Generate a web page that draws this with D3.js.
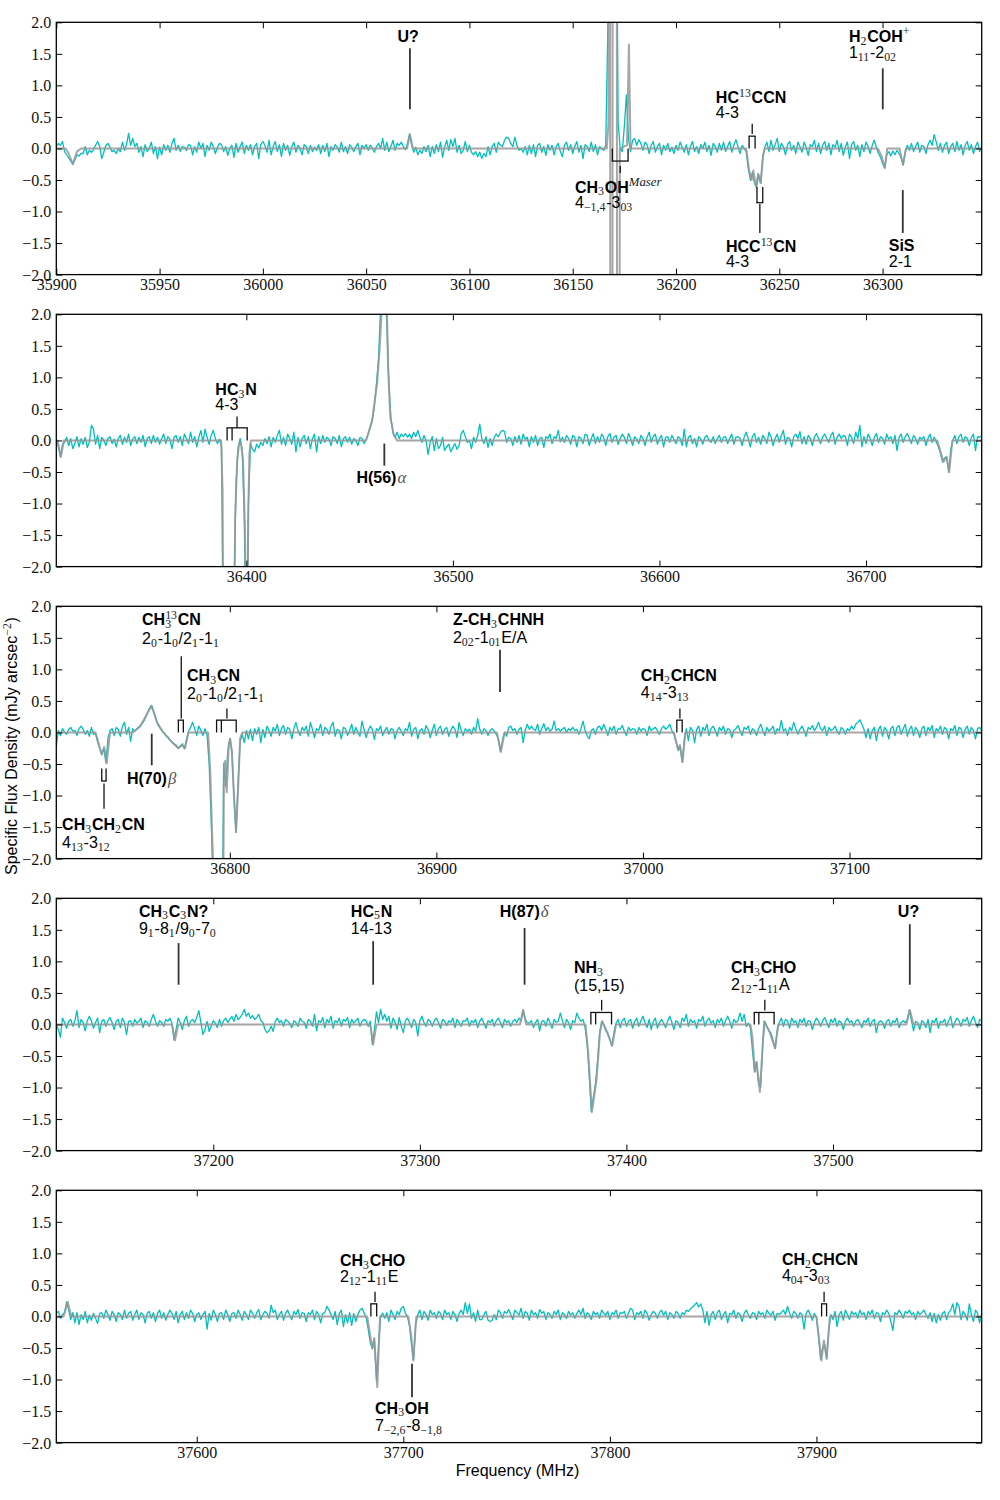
<!DOCTYPE html>
<html><head><meta charset="utf-8">
<script src="https://cdn.jsdelivr.net/npm/d3@7"></script>
<style>html,body{margin:0;padding:0;background:#fff}</style>
</head><body>
<script>
// ---------------- DATA ----------------
const panelStarts = [35900, 36308, 36716, 37124, 37532]; // MHz, left edge of each panel
const panelSpan = 448;    // MHz shown per panel
const channelStep = 1;    // MHz per channel
const yTicks = [-2, -1.5, -1, -0.5, 0, 0.5, 1, 1.5, 2];
const xTicks1 = [35900, 35950, 36000, 36050, 36100, 36150, 36200, 36250, 36300];
const xTicks2 = [36400, 36500, 36600, 36700];
const xTicks3 = [36800, 36900, 37000, 37100];
const xTicks4 = [37200, 37300, 37400, 37500];
const xTicks5 = [37600, 37700, 37800, 37900];

// observed spectrum (mJy arcsec^-2), one value per channel
const flux1 = [
.03,.08,.05,.11,-.05,-.1,-.15,-.2,-.25,-.18,
-.1,-.12,-.08,-.08,.03,-.1,-.03,-.06,-.02,.05,
.11,.03,-.16,-.06,.05,.08,.02,-.05,-.03,-.08,
.0,-.05,.1,-.03,.06,.24,.05,.16,.03,.08,
-.06,.03,-.13,.06,-.05,.0,.1,-.08,.03,-.16,
.02,-.1,.06,-.03,.05,-.06,.08,.16,-.03,.05,
-.05,.03,.02,-.03,.06,.05,-.1,.03,-.06,.1,
.0,.08,-.13,.05,-.03,.1,.03,-.08,.02,.08,
.06,-.05,.03,-.11,.0,.05,-.14,.08,-.06,.03,
.1,-.08,.05,-.03,.06,-.1,.03,.08,-.16,.06,
.11,.05,-.06,.13,-.1,.03,.11,-.05,.06,-.13,
.08,-.03,.05,-.11,.03,.1,-.06,.05,.0,-.1,
.06,.03,-.08,.05,-.05,.02,-.03,.06,-.08,.05,
-.05,.08,-.13,.03,-.03,.06,.02,-.06,.1,-.05,
.03,-.08,.06,.02,-.05,.03,.08,-.1,.05,.0,
.06,-.03,.05,.0,-.06,.03,.08,.0,.16,-.03,
.1,-.05,.03,.13,-.03,.08,.05,.1,.03,-.02,
.08,.23,.06,-.06,.02,-.1,-.03,-.08,.03,-.05,
.05,-.13,.03,-.08,.06,-.05,.1,-.14,.02,.13,
-.03,.14,.03,.16,-.06,.05,-.08,-.03,.11,-.05,
.05,-.06,-.1,-.05,-.13,-.06,-.16,-.08,-.13,.03,
-.1,.03,.08,-.06,.1,.05,.03,.13,.18,.16,
.08,.03,.18,.05,-.03,.0,-.06,.03,-.1,.05,
-.08,.06,-.13,.05,.08,-.06,.03,-.11,.06,-.03,
.05,-.1,.03,.08,-.05,-.13,.05,.1,-.03,.06,
-.08,.03,.11,-.06,.05,-.16,.06,.03,-.05,.1,
-.05,.06,-.1,.03,.0,-.03,.05,1.9,5,5,
5,5,.4,.0,-.05,.35,.85,.15,-.05,.13,
.16,.05,.14,.08,-.03,.1,.06,-.08,.05,.11,
-.06,.03,.08,-.1,.05,-.03,.08,-.05,.02,-.08,
.05,-.03,.1,.02,-.06,.06,-.1,.03,.11,-.05,
.03,-.08,.06,.0,.1,-.05,.05,-.11,.08,.03,
-.06,.08,-.03,.1,-.05,.03,.11,-.06,.05,.14,
.03,-.08,.05,.0,-.05,-.32,-.5,-.38,-.55,-.62,
-.42,-.55,-.15,.02,.1,-.05,.13,-.03,.06,.16,
-.05,.08,.03,-.1,.06,.11,-.03,.05,-.08,.1,
.03,-.06,.1,.02,-.11,.06,.03,.13,-.05,.08,
-.08,.05,.11,-.03,.08,-.1,.06,.02,.13,-.05,
.08,-.11,.03,.1,-.16,.06,.11,-.03,.05,-.13,
.06,-.05,.1,.03,-.08,.05,.13,.02,-.08,-.14,
-.24,-.31,-.1,-.05,-.12,-.04,-.1,-.03,-.08,-.15,
-.26,-.06,.05,-.03,.08,-.05,.03,.1,-.06,.05,
.03,-.08,.06,.13,.05,.22,.1,-.03,.08,-.06,
.05,.1,-.08,.03,.08,-.05,.11,-.03,.06,-.1,
.05,.11,-.03,.06,-.08,.03,.1,-.05,.03];

const flux2 = [
.0,-.1,-.26,-.06,-.03,.05,-.08,.03,-.13,-.05,
.06,-.1,.03,-.06,.05,-.11,-.03,.24,.18,-.06,
.08,-.13,.05,.0,-.08,.03,.06,-.05,.02,-.1,
.03,.08,-.06,.05,-.03,.1,-.08,.02,.06,-.05,
.05,-.03,.08,-.1,.03,.06,-.05,.08,-.03,.05,
-.06,.03,.1,-.05,.06,.02,-.13,.05,.08,-.03,
.06,-.08,.1,.03,-.05,.13,-.03,.06,-.1,.05,
.16,-.03,.18,.05,-.06,.08,.16,.03,-.05,.02,
-.1,-4,-4,-4,-4,-4,-2.4,-.7,-.12,.03,
-.15,-1.2,-4,-1.0,-.05,-.14,-.18,-.06,-.12,-.03,
-.08,.03,-.05,.06,-.1,.05,-.03,.08,.16,-.06,
.05,-.08,.1,.03,-.06,.13,-.18,.05,-.1,.03,
.08,-.05,.06,-.13,.03,.1,-.18,.06,-.05,.08,
-.03,.05,.02,-.08,.06,.03,-.05,.08,-.1,.03,
.06,-.03,.05,-.06,.03,.0,-.08,.05,.03,-.05,
.02,.1,.2,.32,.55,.9,1.3,2.1,2.6,2.3,
1.9,.9,.35,.12,.05,.13,.03,.1,.06,.11,
.05,.1,.03,.13,.06,.16,.05,-.03,.08,.0,
-.22,-.03,.06,-.16,.03,-.13,-.08,.05,-.16,-.1,
-.06,-.18,-.11,-.05,-.14,-.08,.1,.16,.06,-.03,
.0,-.13,.05,-.03,.08,.26,.03,-.05,.06,-.11,
.03,-.08,.05,.1,.06,.13,.16,.14,-.03,.05,
.03,-.08,.06,-.03,.08,-.06,.1,.02,.05,-.1,
.06,-.03,.08,-.08,.03,.05,-.11,.06,.03,.1,
-.05,.06,.03,.16,-.02,.05,-.03,.08,.03,-.06,
.08,.05,-.1,.06,.03,-.05,.1,.08,-.08,.03,
.11,-.05,.06,-.03,.1,.05,-.08,.06,.11,-.03,
.05,.08,-.06,.03,.1,.05,-.05,.11,.03,-.08,
.06,.02,-.05,.08,.03,-.08,.05,.13,-.03,.06,
.1,-.06,.03,.08,-.1,.05,.06,-.03,.08,.02,
-.05,.06,.03,-.08,.18,-.1,.05,.08,-.05,.03,
-.1,.06,.02,-.06,.05,.08,.0,-.03,.06,-.05,
.03,.08,-.03,.05,.06,-.05,.03,.1,-.06,.05,
.06,.03,-.08,.05,.13,.03,-.1,.06,.11,-.03,
.05,-.06,.08,.03,-.05,.13,.06,-.08,.03,.1,
-.03,.08,.16,-.06,.05,.03,-.1,.06,.1,.03,
.14,-.05,.06,-.06,.08,.03,-.08,.05,.11,.03,
-.05,.06,.1,.03,-.03,.08,.13,-.06,.05,.1,
.03,.08,.06,-.08,.1,.05,-.05,.13,.03,.24,
-.1,.06,-.05,.1,.03,-.08,.05,.11,-.03,.06,
.03,-.06,.1,.02,.06,-.05,.08,-.16,.05,.1,
-.03,.06,.11,.03,-.05,.08,.03,-.06,.05,.02,
.06,-.08,.03,.1,-.03,.05,-.02,-.1,-.2,-.34,
-.28,-.26,-.5,-.15,.0,.08,-.05,.06,.1,-.03,
.06,.03,-.08,.05,.1,-.16,.06,.05,.08];

const flux3 = [
-.22,.03,-.05,.06,.0,-.03,.05,.08,.02,.03,
-.05,.06,.1,.05,-.03,.03,-.06,.08,-.03,-.02,
-.15,-.25,-.35,-.25,-.48,-.1,.03,.06,-.05,.08,
.05,-.06,.1,.16,-.03,.08,-.14,.06,.02,.06,
.09,.12,.16,.22,.3,.38,.43,.35,.25,.14,
.08,.03,.0,-.05,-.07,-.12,-.15,-.18,-.2,-.25,
-.22,-.18,-.26,-.12,.02,.08,.16,.06,-.05,.1,
.03,-.05,.06,-.05,-.5,-1.4,-2.5,-5,-5,-5,
-5,-.5,-.85,-.3,-.1,-.3,-1.0,-1.58,-.8,-.15,
-.03,-.16,.03,-.1,.05,-.13,.06,-.03,.08,-.16,
.05,-.08,.1,.03,-.06,.08,.02,.13,-.05,.06,
.11,-.03,.08,.05,-.1,.06,.16,.03,-.05,.08,
.03,.1,-.06,.16,.05,-.08,.06,.03,.13,-.05,
.08,.05,-.03,.1,.16,-.06,.05,.03,-.1,.08,
.06,-.05,.03,.13,-.03,.08,.0,-.06,.18,.05,
-.08,.03,.1,.05,-.11,.06,.03,.1,-.05,.03,
.08,-.03,.06,.05,-.1,.03,.08,.02,-.05,.06,
.03,.16,-.06,.05,.08,-.1,.03,.06,-.03,.11,
.05,-.08,.03,.13,-.05,.06,.1,-.03,.05,.08,
-.06,.03,.1,.05,-.08,.16,.03,-.05,.06,.02,
.05,-.03,.08,.02,.22,.05,-.03,.06,.03,-.05,
.03,.06,.02,-.03,-.1,-.3,-.12,.0,-.06,.08,
.1,.03,.06,-.03,.05,.08,-.16,.03,.13,.05,
.1,.05,.03,.13,-.03,.06,.14,.03,.08,.02,
.05,.18,.03,.06,.02,.05,.08,.0,.06,.03,
.08,.03,.05,-.03,.06,.18,.03,-.05,-.1,.03,
.06,-.03,.08,.1,.03,.13,.05,-.05,.08,.03,
.1,-.03,.06,.05,.11,.02,-.05,.08,.03,.06,
.05,-.03,.08,.02,.06,.05,-.05,.1,.03,.06,
.08,.03,-.03,.06,.1,.05,.08,.13,.03,-.03,
-.15,-.28,-.22,-.47,-.12,.06,-.13,.08,.03,-.16,
.05,.1,-.06,.08,.03,.13,-.05,.06,.1,.03,
-.06,.08,.03,.1,-.03,.06,.05,-.08,.03,.06,
.11,.03,-.05,.08,.05,.1,-.03,.06,.03,-.05,
.06,.13,.03,-.05,.08,.02,.05,.1,-.03,.06,
.03,.19,.02,.06,-.05,.08,.03,.16,.06,-.03,
.05,.1,.03,-.06,.08,.05,.11,.03,.08,.16,
.06,.03,.1,-.05,.08,.03,.05,.1,.02,-.03,
.08,.05,-.03,.06,.03,.1,.05,.13,.16,.2,
.13,.05,-.08,.06,-.1,.03,.08,-.13,.05,.1,
-.06,.08,.03,-.1,.06,.1,-.05,.08,.11,-.03,
.06,.13,-.06,.05,.1,-.05,.08,.03,-.08,.06,
.1,-.05,.08,.03,.11,-.08,.06,.02,.1,-.03,
.08,.05,-.1,.06,.03,.11,-.05,.08,.06,-.08,
.05,.1,-.03,.08,.03,-.1,.06,.08,.03];

const flux4 = [
.0,-.08,-.2,.1,.03,-.06,.05,.08,-.03,.06,
.22,-.05,.08,.03,-.1,.06,.13,.05,-.06,.03,
.1,-.13,.05,.08,-.03,.06,.11,.03,-.08,.05,
.08,-.05,.1,.03,-.16,.05,.06,-.03,.08,.02,
.05,.1,-.05,.06,.03,-.03,.08,.16,.05,-.03,
.06,.03,-.03,.08,.05,.1,.02,-.25,-.08,.1,
.03,-.08,.06,.13,-.03,.05,.08,.03,.11,.22,
.03,-.16,-.08,.05,-.11,-.03,.06,.02,-.05,.08,
-.03,.06,.1,.03,.08,.13,.05,.16,.08,.11,
.16,.24,.13,.18,.1,.14,.08,.11,.16,.06,
.03,-.08,-.13,-.1,-.03,-.11,.05,.1,.03,.06,
-.03,.08,.05,.02,-.05,.06,.03,-.03,.1,.05,
.03,-.06,.08,.05,-.03,.16,-.1,.06,.03,.11,
-.05,.08,.03,.13,-.06,.06,.03,.1,-.03,.08,
.05,.11,-.05,.08,.02,.06,.1,-.03,.05,.08,
.06,-.03,.05,-.32,-.08,.2,.03,.24,.08,.16,
.05,.13,-.06,.1,.03,-.08,.11,-.03,-.13,.06,
.1,.03,-.05,.08,.03,-.18,.06,.13,.03,-.03,
.08,.05,-.03,.06,.1,.03,-.06,.08,.05,-.02,
.06,.03,.1,-.05,.08,.03,-.03,.06,.05,.1,
-.03,.06,.03,.08,-.05,.05,.1,.02,-.06,.06,
.03,.08,-.03,.06,.1,.03,-.05,.08,.03,.06,
-.03,.05,.08,.03,.1,.06,.23,.08,.03,.02,
.06,-.05,.03,.08,-.1,.05,.06,-.03,.1,.03,
-.06,.08,.03,.05,.18,.06,-.05,.08,.03,-.08,
.06,.03,.18,.1,.05,.08,-.05,-.3,-.8,-1.38,
-1.15,-.95,-.6,-.15,.05,.0,-.1,-.14,-.24,-.34,
-.12,.02,.08,-.05,.06,.1,-.03,.05,.08,-.06,
.05,.1,-.03,.06,.13,.03,-.05,.08,-.08,.05,
.1,-.06,.03,.08,.02,-.05,.06,.13,.03,-.08,
.06,.03,-.05,.1,.05,.16,-.03,.08,.03,.06,
-.06,.08,.05,.13,-.03,.06,.1,.02,.06,-.05,
.08,.03,.1,-.03,.06,.13,.05,-.06,.08,.03,
.06,.18,.05,.16,-.03,.02,-.05,-.4,-.75,-.6,
-.95,-1.0,-.3,.05,-.04,-.1,-.14,-.25,-.38,-.1,
.03,.1,-.03,.08,.05,-.06,.1,.03,.06,-.05,
.08,.03,.1,-.03,.06,.05,-.08,.03,.1,.05,
-.03,.06,.11,.03,-.05,.08,.03,.1,-.03,.06,
.03,-.08,.05,.1,.03,.06,-.03,.05,.08,.02,
-.05,.06,.03,.1,-.03,.05,.08,-.13,.03,.06,
.03,-.06,.05,.08,-.03,.06,.03,.1,-.05,.03,
.06,.03,.08,.23,.06,-.1,.05,.03,-.08,.06,
.03,-.05,.08,-.13,.06,.03,.1,-.06,.05,.03,
.08,-.03,.06,.13,-.05,.03,.1,.06,-.03,.08,
.05,.11,-.03,.06,.13,.03,-.05,.08,.06];

const flux5 = [
.05,.08,-.03,.03,.06,.23,.1,-.05,.06,-.1,
.06,-.13,.03,-.05,.08,-.1,.02,-.06,.05,-.03,
-.11,.05,.06,-.03,.1,.03,-.06,.08,.03,-.08,
.06,.03,-.05,.1,-.03,.05,.08,-.06,.03,.1,
-.05,.06,.03,-.1,.05,.08,-.03,.06,-.08,.05,
.1,-.03,.06,-.06,.03,.1,.05,-.05,.08,-.1,
.03,.08,-.05,.06,-.03,.1,.05,-.08,.03,.06,
-.05,.03,.08,-.2,.05,-.06,.1,.03,-.08,.05,
.06,-.05,.1,.03,-.08,.05,.06,-.03,.1,.03,
-.06,.08,.03,-.05,.1,.05,-.03,.06,.11,-.05,
.03,.08,.05,-.03,.18,.06,.1,-.05,.03,.08,
-.06,.05,.1,.02,-.05,.08,.03,.11,-.03,.06,
.05,-.08,.06,.03,.1,-.05,.08,.03,-.1,.05,
.06,.16,.1,.03,-.05,.08,-.13,.05,.1,-.16,
.03,-.1,.06,-.14,.05,-.08,.03,.1,.13,.06,
-.02,-.2,-.42,-.5,-.36,-1.02,-.45,.0,.05,-.03,
.06,-.08,.1,.03,-.05,.08,.03,.13,.16,.05,
.0,-.15,-.45,-.68,-.12,.03,.1,-.05,.08,.03,
-.06,.1,.03,.06,-.03,.08,.05,-.05,.1,.03,
.06,-.05,.08,.03,-.08,.05,.1,.03,.22,.05,
.2,-.03,.06,-.08,.1,-.05,-.05,.03,.08,-.06,
-.08,-.06,.03,-.05,.1,.06,-.03,.08,.05,.11,
.03,-.05,.1,.06,.02,.13,-.03,.08,.05,-.06,
.1,.03,.06,-.03,.11,.05,.08,-.05,.06,.03,
-.03,.08,.03,.1,-.05,.06,.03,-.03,.08,.02,
.06,-.03,.05,.1,.03,.13,-.03,.06,.03,-.05,
.08,.03,.06,-.03,.1,.05,.02,.08,-.05,.06,
.03,.1,-.03,.06,.05,.08,-.03,.05,.13,.1,
-.05,.06,.03,.08,-.03,.1,.05,-.06,.03,.08,
.05,-.03,.06,.1,.02,.08,-.05,.06,.03,-.03,
.08,.05,-.03,.06,.03,.1,.08,.12,.15,.18,
.22,.15,.2,.1,-.1,.08,-.14,.03,.08,-.05,
.06,.1,-.05,.03,.08,-.1,.05,.03,.1,-.03,
.06,.03,-.08,.05,.1,.03,-.03,.06,.05,-.05,
.08,.03,.06,-.03,.1,.05,.02,.08,-.06,.05,
.03,.06,.1,.03,.16,.05,-.03,.08,.05,-.03,
.06,.03,-.2,.05,.1,.03,-.06,.05,-.02,-.3,
-.68,-.5,-.45,-.67,-.2,.03,-.05,.08,-.16,.03,
.08,-.06,.1,.03,-.05,.08,.03,.06,-.03,.1,
.03,.06,-.05,.08,.03,.1,-.03,.06,.05,-.08,
.06,.03,.1,.05,-.08,-.22,.06,.03,.1,.05,
-.03,.08,.05,.1,.03,.06,-.05,.08,.03,.06,
.1,.03,-.03,.06,-.08,.05,-.1,.03,-.06,.05,
.08,-.05,.06,.1,.2,.03,.22,.16,-.05,.08,
.03,-.06,.2,.03,-.08,.1,.05,-.1,.05];

// model spectrum: [frequency MHz, flux]
const model1 = [[35900,0],[35904.5,0],[35906,-0.08],[35908,-0.25],[35910,-0.05],[35912,0],
 [36069.8,0],[36071.2,0.22],[36072.6,0],
 [36166.5,0],[36167.3,0.4],[36167.9,15],[36168.4,-15],[36169.1,-15],[36169.5,15],[36171.2,15],[36171.6,-15],[36172.3,-15],[36172.8,0],[36176.3,0.05],[36177.2,1.65],[36178,0],
 [36234,0],[36235.4,-0.35],[36236.6,-0.5],[36237.4,-0.35],[36238.7,-0.6],[36239.8,-0.4],[36241,-0.55],[36242.2,-0.1],[36243,0],
 [36297.7,0],[36299.5,-0.12],[36301.1,-0.31],[36302.3,0],
 [36308.2,0],[36309.9,-0.26],[36311.3,0],[36348,0]];
const model2 = [[36308,0],[36308.6,0],[36310.2,-0.26],[36311.7,0],
 [36387.8,0],[36388.5,-0.8],[36389.2,-5],[36393.6,-5],[36394.6,-1.2],[36395.6,-0.3],[36396.5,-0.05],[36397.3,-0.03],[36398.4,-0.3],[36399.4,-1.5],[36400.2,-5],[36400.9,-1.2],[36401.5,-0.2],[36402.2,0],
 [36458,0],[36460.9,0.32],[36463.3,0.9],[36464.5,1.43],[36465.4,2.0],[36466.8,2.5],[36468.1,2.0],[36468.6,1.17],[36469.7,0.37],[36471.3,0.1],[36473,0],
 [36734.5,0],[36737.5,-0.34],[36739,-0.26],[36740.3,-0.5],[36741.8,0],[36756,0]];
const model3 = [[36716,0],[36735,0],[36738,-0.35],[36739.2,-0.23],[36740.4,-0.49],[36742,0],
 [36753,0],[36756.5,0.09],[36760.5,0.33],[36762.2,0.42],[36764.6,0.17],[36767.8,0],[36771.9,-0.15],[36775.1,-0.25],[36776.7,-0.2],[36778.3,-0.25],[36780,0],
 [36789.5,0],[36790.5,-0.6],[36792,-2.2],[36792.5,-5],[36796.4,-5],[36797.2,-0.5],[36797.8,-0.45],[36798.5,-0.95],[36799.5,-0.2],[36800.2,-0.1],[36801,-0.3],[36802,-1.0],[36803,-1.58],[36804,-0.9],[36805,-0.1],[36806,0],
 [36929.3,0],[36931.2,-0.31],[36933,0],
 [37015,0],[37017.1,-0.28],[37017.9,-0.2],[37019.2,-0.47],[37020.5,0],[37164,0]];
const model4 = [[37124,0],[37180,0],[37181.5,-0.25],[37183,0],
 [37276,0],[37277.4,-0.32],[37279,0],
 [37348.5,0],[37350,0.23],[37351.5,0],
 [37380.2,0],[37381.5,-0.45],[37383.3,-1.39],[37385.6,-0.86],[37387.2,-0.12],[37388.3,0.05],[37390.4,-0.1],[37393.1,-0.34],[37395,0],
 [37460,0],[37461,-0.2],[37462.2,-0.75],[37463,-0.59],[37464.6,-1.07],[37466.7,0.05],[37469.1,-0.1],[37472,-0.38],[37473.5,0],
 [37535.5,0],[37537.2,0.23],[37539,0],[37572,0]];
const model5 = [[37532,0],[37535.5,0],[37537.5,0.23],[37539.3,0],
 [37682.5,0],[37685,-0.51],[37685.9,-0.34],[37687.4,-1.12],[37688.7,0],
 [37702.4,0],[37703.8,-0.3],[37704.8,-0.7],[37706.3,0],
 [37900,0],[37902.4,-0.7],[37903.6,-0.38],[37904.9,-0.67],[37906.5,0],[37980,0]];

// line identifications (frequency / flux coordinates)
const notes1 = [
 {stick:[36071.2,1.59,0.62], label:{f:36065.2,v:[1.68],lines:["U?"]}},
 {bracket:{ticks:[36169.2,36176.8],from:0,bar:-0.2,stub:[36173,-0.28,-0.39]}, label:{f:36151.1,v:[-0.7,-0.95],lines:["CH_{3}OH^i{Maser}","4_{−1,4}-3_{03}"]}},
 {bracket:{ticks:[36235.4,36238.3],from:0,bar:0.195,stub:[36236.9,0.23,0.39]}, label:{f:36219.3,v:[0.72,0.48],lines:["HC^{13}CCN","4-3"]}},
 {bracket:{ticks:[36239.2,36242],from:-0.61,bar:-0.86,stub:[36240.6,-0.88,-1.34]}, label:{f:36224.2,v:[-1.64,-1.88],lines:["HCC^{13}CN","4-3"]}},
 {stick:[36300.1,1.27,0.62], label:{f:36283.7,v:[1.69,1.44],lines:["H_{2}COH^{+}","1_{11}-2_{02}"]}},
 {stick:[36309.8,-0.66,-1.34], label:{f:36303,v:[-1.62,-1.88],lines:["SiS","2-1"]}}
];
const notes2 = [
 {bracket:{ticks:[36390.7,36393.1,36400.4],from:0,bar:0.2,stub:[36395.5,0.2,0.38]}, label:{f:36385,v:[0.72,0.48],lines:["HC_{3}N","4-3"]}},
 {stick:[36466.8,-0.05,-0.4], label:{f:36453.3,v:[-0.67],lines:["H(56)~{α}"]}}
];
const notes3 = [
 {bracket:{ticks:[36738,36740.1],from:-0.57,bar:-0.77,stub:[36739.1,-0.81,-1.21]}, label:{f:36718.8,v:[-1.55,-1.83],lines:["CH_{3}CH_{2}CN","4_{13}-3_{12}"]}},
 {stick:[36762.2,-0.02,-0.52], label:{f:36750.2,v:[-0.82],lines:["H(70)~{β}"]}},
 {bracket:{ticks:[36775.1,36777.5],from:0,bar:0.195,stub:[36776.5,0.22,1.21]}, label:{f:36757.5,v:[1.70,1.40],lines:["CH%{13|3}CN","2_{0}-1_{0}/2_{1}-1_{1}"]}},
 {bracket:{ticks:[36793.6,36795.9,36803.1],from:0,bar:0.195,stub:[36798.6,0.22,0.38]}, label:{f:36779.3,v:[0.81,0.53],lines:["CH_{3}CN","2_{0}-1_{0}/2_{1}-1_{1}"]}},
 {stick:[36930.8,1.31,0.64], label:{f:36908,v:[1.70,1.42],lines:["Z-CH_{3}CHNH","2_{02}-1_{01}E/A"]}},
 {bracket:{ticks:[37016.4,37019],from:0,bar:0.195,stub:[37017.9,0.22,0.38]}, label:{f:36999,v:[0.81,0.54],lines:["CH_{2}CHCN","4_{14}-3_{13}"]}}
];
const notes4 = [
 {stick:[37183.2,1.29,0.63], label:{f:37164,v:[1.71,1.44],lines:["CH_{3}C_{3}N?","9_{1}-8_{1}/9_{0}-7_{0}"]}},
 {stick:[37277.4,1.32,0.63], label:{f:37266.6,v:[1.71,1.44],lines:["HC_{5}N","14-13"]}},
 {stick:[37350.7,1.53,0.63], label:{f:37338.7,v:[1.71],lines:["H(87)~{δ}"]}},
 {bracket:{ticks:[37382.8,37385.1,37392.8],from:0,bar:0.19,stub:[37388,0.22,0.39]}, label:{f:37374.6,v:[0.81,0.53],lines:["NH_{3}","(15,15)"]}},
 {bracket:{ticks:[37461.9,37464.1,37471.5],from:0,bar:0.19,stub:[37467,0.22,0.39]}, label:{f:37450.6,v:[0.81,0.54],lines:["CH_{3}CHO","2_{12}-1_{11}A"]}},
 {stick:[37537.2,1.59,0.63], label:{f:37531.4,v:[1.70],lines:["U?"]}}
];
const notes5 = [
 {bracket:{ticks:[37684.3,37687.1],from:0,bar:0.2,stub:[37686.3,0.23,0.39]}, label:{f:37669.3,v:[0.80,0.55],lines:["CH_{3}CHO","2_{12}-1_{11}E"]}},
 {stick:[37704.2,-0.75,-1.28], label:{f:37686.3,v:[-1.54,-1.81],lines:["CH_{3}OH","7_{−2,6}-8_{−1,8}"]}},
 {bracket:{ticks:[37902.5,37904.9],from:0,bar:0.2,stub:[37903.7,0.23,0.39]}, label:{f:37883.3,v:[0.82,0.56],lines:["CH_{2}CHCN","4_{04}-3_{03}"]}}
];

const xLabel = "Frequency (MHz)";
const yLabel = "Specific Flux Density (mJy arcsec^{−2})";

// ---------------- DRAWING ----------------
const panels = [
 {start:panelStarts[0], flux:flux1, model:model1, ticks:xTicks1, notes:notes1},
 {start:panelStarts[1], flux:flux2, model:model2, ticks:xTicks2, notes:notes2},
 {start:panelStarts[2], flux:flux3, model:model3, ticks:xTicks3, notes:notes3},
 {start:panelStarts[3], flux:flux4, model:model4, ticks:xTicks4, notes:notes4},
 {start:panelStarts[4], flux:flux5, model:model5, ticks:xTicks5, notes:notes5}
];

const W=1000, H=1500;
const L=56.3, R=981.7, T0=22.3, PH=252.3, GAP=292;
const SANS="'Liberation Sans', Arial, Helvetica, sans-serif";
const SERIF="'Liberation Serif', 'DejaVu Serif', 'Times New Roman', serif";
const CYAN="#00bfbf", GREY="#969696";

const svg=d3.select('body').append('svg').attr('width',W).attr('height',H)
  .attr('xmlns','http://www.w3.org/2000/svg');
svg.append('rect').attr('width',W).attr('height',H).attr('fill','#fff');
const defs=svg.append('defs');

function tokenize(s){
  const re=/(\^i\{[^}]*\}|\^\{[^}]*\}|_\{[^}]*\}|~\{[^}]*\}|%\{[^}]*\})/;
  return s.split(re).filter(t=>t!=='').map(t=>{
    if(t.startsWith('^i{')) return {type:'supi',text:t.slice(3,-1)};
    if(t.startsWith('^{')) return {type:'sup',text:t.slice(2,-1)};
    if(t.startsWith('_{')) return {type:'sub',text:t.slice(2,-1)};
    if(t.startsWith('~{')) return {type:'greek',text:t.slice(2,-1)};
    if(t.startsWith('%{')){const p=t.slice(2,-1).split('|');return {type:'stack',sup:p[0],sub:p[1]};}
    return {type:'plain',text:t};
  });
}
function rich(parent,str,x0,y0,opt){
  opt=Object.assign({bold:false,size:16,anchor:'start'},opt||{});
  const g=parent.append('g');
  const size=opt.size, small=size*0.74;
  let x=0;
  const add=(txt,dx,dy,fam,fs,o)=>{
    const t=g.append('text').attr('x',dx).attr('y',dy).attr('font-family',fam).style('font-family',fam)
      .attr('font-size',fs).attr('fill',o.fill||'#000').attr('xml:space','preserve').text(txt);
    if(o.bold) t.attr('font-weight','bold');
    if(o.italic) t.attr('font-style','italic');
    return t.node().getComputedTextLength();
  };
  tokenize(str).forEach(tk=>{
    if(tk.type==='plain') x+=add(tk.text,x,0,SANS,size,{bold:opt.bold});
    else if(tk.type==='sub') x+=add(tk.text,x,size*0.18,SERIF,small,{fill:'#222'})+0.8;
    else if(tk.type==='sup') x+=add(tk.text,x,-size*0.4,SERIF,small,{fill:'#222'})+0.8;
    else if(tk.type==='supi') x+=add(tk.text,x,-size*0.42,SERIF,size*0.8,{fill:'#222',italic:true})+0.8;
    else if(tk.type==='greek') x+=add(tk.text,x+1,0,SERIF,size*1.05,{fill:'#555',italic:true})+1;
    else if(tk.type==='stack'){
      const a=add(tk.sup,x,-size*0.42,SERIF,small,{fill:'#222'});
      const b=add(tk.sub,x,size*0.18,SERIF,small,{fill:'#222'});
      x+=Math.max(a,b)+0.8;
    }
  });
  const sx = opt.anchor==='middle' ? x0-x/2 : x0;
  g.attr('transform',`translate(${sx},${y0})`);
  return g;
}

panels.forEach((p,i)=>{
  const top=T0+i*GAP, bot=top+PH;
  const x=d3.scaleLinear().domain([p.start,p.start+panelSpan]).range([L,R]);
  const y=d3.scaleLinear().domain([-2,2]).range([bot,top]);
  const cid='clip'+i;
  defs.append('clipPath').attr('id',cid).append('rect')
    .attr('x',L).attr('y',top).attr('width',R-L).attr('height',PH);
  const g=svg.append('g');
  const plot=g.append('g').attr('clip-path',`url(#${cid})`);

  const pts=p.flux.map((v,k)=>[p.start+k*channelStep,v]);
  const line=d3.line().x(d=>x(d[0])).y(d=>y(d[1]));
  plot.append('path').datum(pts).attr('d',line).attr('fill','none')
    .attr('stroke',CYAN).attr('stroke-width',1.3).attr('stroke-linejoin','round');
  plot.append('path').datum(p.model).attr('d',line).attr('fill','none')
    .attr('stroke',GREY).attr('stroke-width',2).attr('stroke-opacity',0.85).attr('stroke-linejoin','round');

  const axB=g.append('g').attr('transform',`translate(0,${bot})`)
    .call(d3.axisBottom(x).tickValues(p.ticks).tickSize(-6).tickPadding(4).tickFormat(d3.format('d')));
  const axT=g.append('g').attr('transform',`translate(0,${top})`)
    .call(d3.axisTop(x).tickValues(p.ticks).tickSize(-6).tickFormat(''));
  const axL=g.append('g').attr('transform',`translate(${L},0)`)
    .call(d3.axisLeft(y).tickValues(yTicks).tickSize(-6).tickPadding(5).tickFormat(d3.format('.1f')));
  const axR=g.append('g').attr('transform',`translate(${R},0)`)
    .call(d3.axisRight(y).tickValues(yTicks).tickSize(-6).tickFormat(''));
  [axB,axT,axL,axR].forEach(a=>{
    a.attr('font-family',null).attr('font-size',null);
    a.select('.domain').remove();
    a.selectAll('line').attr('stroke','#000').attr('stroke-width',1);
    a.selectAll('text').attr('font-family',SERIF).style('font-family',SERIF)
      .attr('font-size',16).style('font-size','16px').attr('fill','#111');
  });
  axL.selectAll('text').attr('dy','0.34em');

  g.append('rect').attr('x',L).attr('y',top).attr('width',R-L).attr('height',PH)
    .attr('fill','none').attr('stroke','#000').attr('stroke-width',1.3);

  const ann=g.append('g');
  p.notes.forEach(n=>{
    if(n.stick){
      ann.append('line').attr('x1',x(n.stick[0])).attr('x2',x(n.stick[0]))
        .attr('y1',y(n.stick[1])).attr('y2',y(n.stick[2]))
        .attr('stroke','#333').attr('stroke-width',1.8);
    }
    if(n.bracket){
      const b=n.bracket;
      b.ticks.forEach(f=>{
        ann.append('line').attr('x1',x(f)).attr('x2',x(f)).attr('y1',y(b.from)).attr('y2',y(b.bar))
          .attr('stroke','#111').attr('stroke-width',1.3);
      });
      ann.append('line').attr('x1',x(d3.min(b.ticks))-0.6).attr('x2',x(d3.max(b.ticks))+0.6)
        .attr('y1',y(b.bar)).attr('y2',y(b.bar)).attr('stroke','#111').attr('stroke-width',1.3);
      ann.append('line').attr('x1',x(b.stub[0])).attr('x2',x(b.stub[0]))
        .attr('y1',y(b.stub[1])).attr('y2',y(b.stub[2])).attr('stroke','#111').attr('stroke-width',1.3);
    }
    const lb=n.label;
    lb.lines.forEach((s,k)=>{
      rich(ann,s,x(lb.f),y(lb.v[k]),{bold:k===0,size:16});
    });
  });
});

rich(svg,xLabel,517.5,1476,{size:16,anchor:'middle'});
const yl=svg.append('g').attr('transform','translate(17,746) rotate(-90)');
rich(yl,yLabel,0,0,{size:16,anchor:'middle'});
</script>
</body></html>
